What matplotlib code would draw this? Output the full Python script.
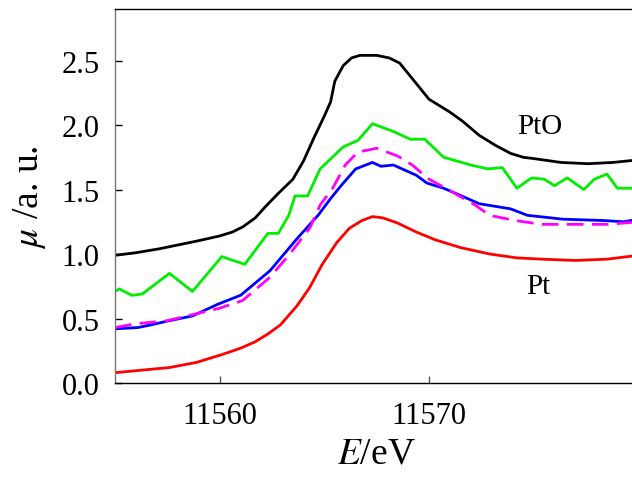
import numpy as np
import matplotlib
matplotlib.use("Agg")
import matplotlib.pyplot as plt

plt.rcParams['font.family'] = ['Liberation Serif', 'DejaVu Serif']
plt.rcParams['mathtext.fontset'] = 'stix'

# PtO reference (black)
E_pto = [11555.0, 11556.0, 11557.1, 11558.0, 11558.9, 11560.0, 11560.6, 11561.1,
         11561.7, 11562.2, 11562.8, 11563.5, 11564.0, 11564.5, 11565.0, 11565.3,
         11565.5, 11565.9, 11566.3, 11566.7, 11567.5, 11568.1, 11568.6, 11569.1,
         11569.6, 11570.0, 11571.0, 11571.6, 11572.4, 11573.2, 11573.9, 11574.5,
         11575.0, 11576.3, 11577.6, 11578.8, 11580.0]
mu_pto = [0.99, 1.01, 1.04, 1.07, 1.10, 1.14, 1.17, 1.21,
          1.28, 1.37, 1.47, 1.58, 1.72, 1.90, 2.07, 2.18,
          2.34, 2.46, 2.52, 2.54, 2.54, 2.52, 2.48, 2.38,
          2.28, 2.20, 2.10, 2.03, 1.92, 1.84, 1.78, 1.75,
          1.74, 1.71, 1.70, 1.71, 1.73]

# sample spectrum (green)
E_smp = [11555.0, 11555.2, 11555.8, 11556.3, 11557.6, 11558.7, 11560.1, 11561.2,
         11562.3, 11562.8, 11563.3, 11563.6, 11564.2, 11564.8, 11565.9, 11566.6,
         11567.3, 11568.3, 11569.1, 11569.8, 11570.7, 11572.0, 11572.8, 11573.5,
         11574.2, 11574.9, 11575.5, 11576.0, 11576.6, 11577.4, 11577.9, 11578.5,
         11579.0, 11580.0]
mu_smp = [0.71, 0.73, 0.68, 0.69, 0.85, 0.71, 0.98, 0.92,
          1.16, 1.16, 1.30, 1.45, 1.45, 1.66, 1.83, 1.88,
          2.01, 1.95, 1.89, 1.89, 1.75, 1.69, 1.66, 1.67,
          1.51, 1.59, 1.58, 1.53, 1.59, 1.50, 1.58, 1.62,
          1.51, 1.51]

# smoothed sample (blue)
E_sm = [11555.0, 11556.1, 11556.7, 11557.5, 11558.7, 11559.9, 11561.0, 11562.4,
        11563.7, 11564.7, 11565.3, 11565.8, 11566.5, 11567.3, 11567.7, 11568.3,
        11569.4, 11569.9, 11570.7, 11571.7, 11572.4, 11573.9, 11574.7, 11576.4,
        11578.3, 11579.3, 11580.0]
mu_sm = [0.42, 0.43, 0.45, 0.48, 0.52, 0.61, 0.68, 0.87,
         1.12, 1.30, 1.43, 1.53, 1.66, 1.71, 1.68, 1.69,
         1.61, 1.55, 1.51, 1.44, 1.39, 1.35, 1.30, 1.27,
         1.26, 1.25, 1.27]

# linear combination fit (magenta dashed)
E_fit = [11555.0, 11556.0, 11557.4, 11558.7, 11560.0, 11561.1, 11562.4, 11563.3,
         11564.3, 11564.8, 11565.4, 11566.0, 11566.6, 11567.5, 11568.5, 11569.2,
         11570.0, 11570.8, 11572.2, 11572.9, 11574.1, 11575.4, 11577.0, 11578.6,
         11580.0]
mu_fit = [0.43, 0.46, 0.48, 0.53, 0.58, 0.64, 0.82, 0.99,
          1.20, 1.38, 1.51, 1.69, 1.79, 1.82, 1.76, 1.69,
          1.58, 1.51, 1.38, 1.30, 1.26, 1.23, 1.23, 1.23,
          1.25]

# Pt foil reference (red)
E_pt = [11555.0, 11556.3, 11557.6, 11558.9, 11560.1, 11561.0, 11561.7, 11562.3,
        11562.9, 11563.7, 11564.3, 11564.9, 11565.6, 11566.2, 11566.8, 11567.3,
        11567.8, 11568.5, 11569.4, 11570.3, 11571.5, 11572.9, 11574.2, 11575.4,
        11577.0, 11578.5, 11580.0]
mu_pt = [0.08, 0.10, 0.12, 0.16, 0.22, 0.27, 0.32, 0.38,
         0.45, 0.60, 0.74, 0.92, 1.09, 1.20, 1.26, 1.29,
         1.28, 1.24, 1.17, 1.11, 1.05, 1.00, 0.97, 0.96,
         0.95, 0.96, 0.99]

fig = plt.figure(figsize=(6.32, 4.89), dpi=100)
ax = fig.add_axes([0.182, 0.2147, 0.828, 0.765])

lw = 2.0
ax.plot(E_pto, mu_pto, color='black', lw=lw)
ax.plot(E_smp, mu_smp, color='#00ee00', lw=lw)
ax.plot(E_sm, mu_sm, color='#0000ff', lw=lw)
ax.plot(E_fit, mu_fit, color='#ff00ff', lw=lw, dashes=(6, 3))
ax.plot(E_pt, mu_pt, color='#ff0000', lw=lw)

ax.text(11575.3, 1.99, 'PtO', fontsize=21, ha='center', va='center')
ax.text(11575.2, 0.75, 'Pt', fontsize=21, ha='center', va='center')

ax.set_xlim(11555, 11580)
ax.set_ylim(0, 2.9)
ax.set_xticks([11560, 11570])
ax.set_yticks([0.0, 0.5, 1.0, 1.5, 2.0, 2.5])
ax.set_yticklabels(['0.0', '0.5', '1.0', '1.5', '2.0', '2.5'])

ax.tick_params(axis='both', direction='in', labelsize=22, length=5, width=1)
ax.tick_params(axis='y', pad=11)
ax.tick_params(axis='x', pad=13, color='#555555')

ax.spines['left'].set_color('#777777')
ax.spines['right'].set_visible(False)
for s in ['left', 'top', 'bottom']:
    ax.spines[s].set_linewidth(1)

ax.set_xlabel('$E$/eV', fontsize=27, labelpad=4)
ax.set_ylabel(r'$\mu$ /a. u.', fontsize=27, labelpad=10)

fig.savefig('out.png', dpi=100)
